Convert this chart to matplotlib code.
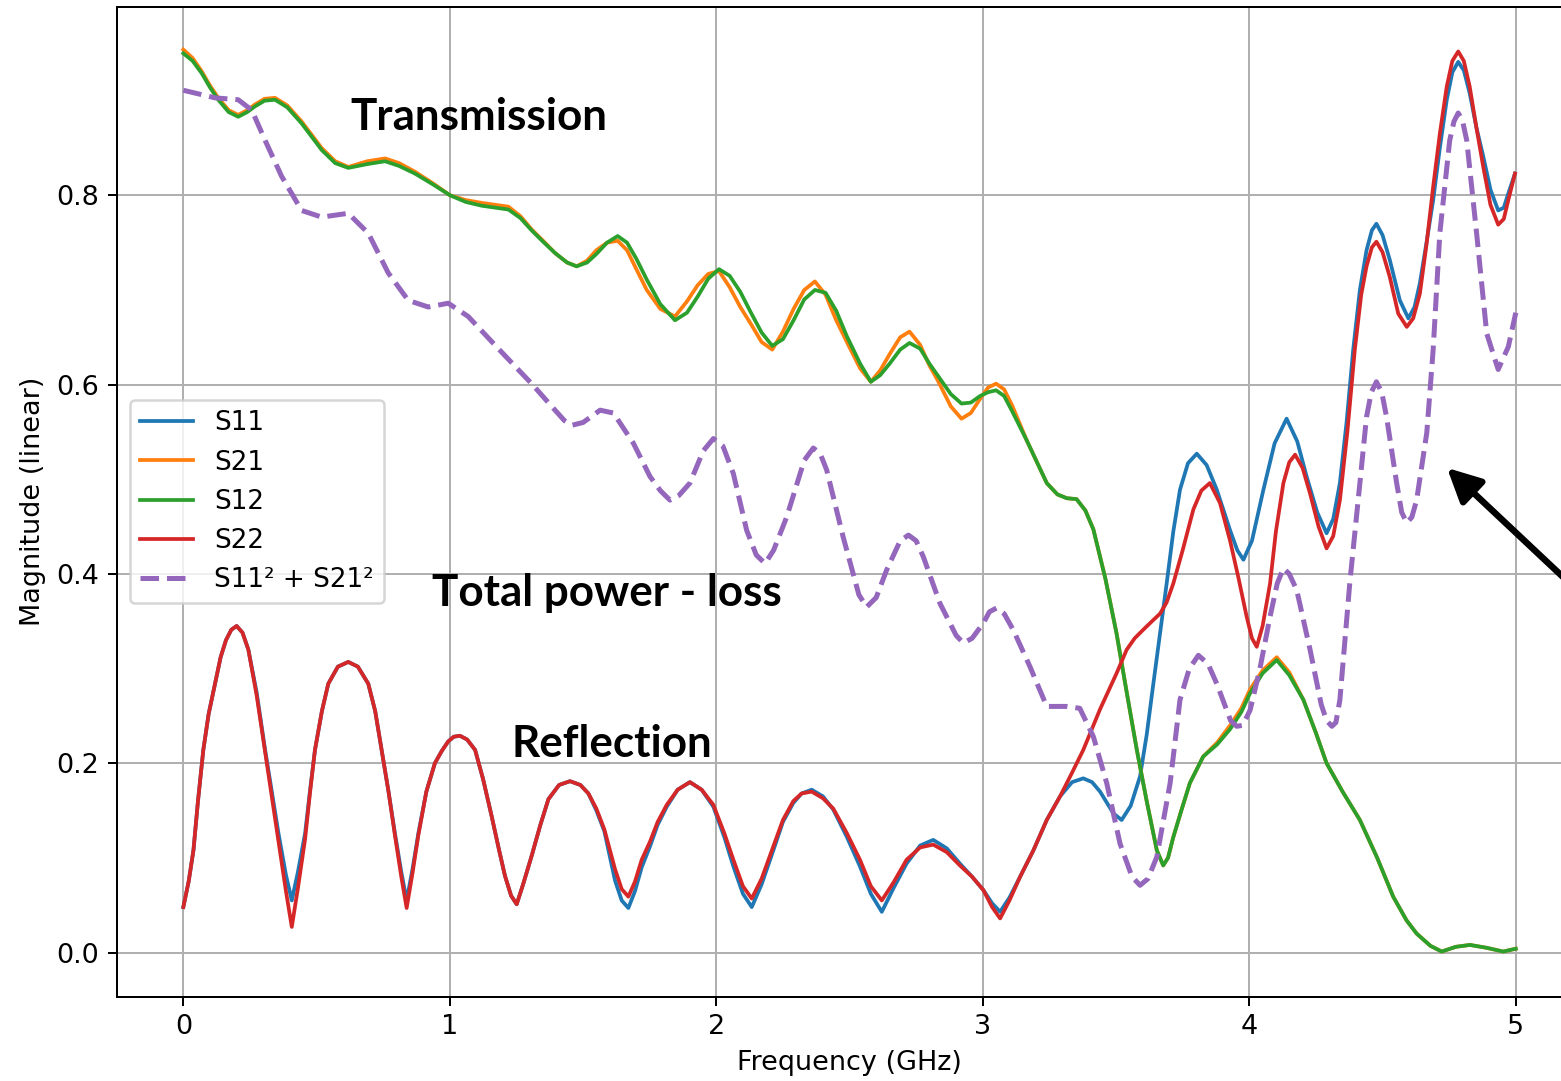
import matplotlib
matplotlib.use("Agg")
import matplotlib.pyplot as plt

# Reflection: S11 readings (GHz, linear magnitude)
s11_freq = [0.000, 0.020, 0.038, 0.055, 0.075, 0.095, 0.119, 0.140, 0.160, 0.180,
            0.200, 0.222, 0.244, 0.275, 0.307, 0.335, 0.357, 0.385, 0.407, 0.430,
            0.457, 0.475, 0.494, 0.520, 0.544, 0.580, 0.619, 0.655, 0.694, 0.720,
            0.744, 0.770, 0.794, 0.818, 0.838, 0.860, 0.882, 0.912, 0.944, 0.970,
            0.994, 1.015, 1.038, 1.065, 1.095, 1.125, 1.157, 1.185, 1.207, 1.230,
            1.251, 1.275, 1.307, 1.340, 1.370, 1.410, 1.451, 1.490, 1.520, 1.550,
            1.580, 1.620, 1.645, 1.670, 1.695, 1.720, 1.751, 1.780, 1.814, 1.855,
            1.901, 1.945, 1.989, 2.030, 2.064, 2.100, 2.133, 2.170, 2.214, 2.250,
            2.289, 2.320, 2.358, 2.400, 2.439, 2.490, 2.539, 2.580, 2.621, 2.665,
            2.714, 2.765, 2.814, 2.865, 2.914, 2.960, 3.002, 3.035, 3.065, 3.100,
            3.140, 3.190, 3.240, 3.290, 3.335, 3.377, 3.410, 3.440, 3.490, 3.521,
            3.555, 3.590, 3.615, 3.640, 3.665, 3.690, 3.715, 3.740, 3.770, 3.803,
            3.840, 3.878, 3.928, 3.955, 3.978, 4.010, 4.053, 4.095, 4.140, 4.180,
            4.215, 4.255, 4.290, 4.315, 4.340, 4.365, 4.390, 4.415, 4.440, 4.460,
            4.477, 4.500, 4.527, 4.565, 4.597, 4.620, 4.640, 4.665, 4.690, 4.715,
            4.741, 4.762, 4.784, 4.805, 4.827, 4.852, 4.878, 4.905, 4.934, 4.955,
            4.972, 4.997]
s11 = [0.048, 0.075, 0.108, 0.160, 0.214, 0.252, 0.284, 0.312, 0.330, 0.341,
       0.345, 0.338, 0.320, 0.275, 0.214, 0.165, 0.126, 0.082, 0.055, 0.085,
       0.126, 0.170, 0.214, 0.255, 0.284, 0.302, 0.307, 0.302, 0.284, 0.255,
       0.214, 0.170, 0.126, 0.085, 0.055, 0.088, 0.126, 0.170, 0.200, 0.213,
       0.223, 0.228, 0.229, 0.225, 0.214, 0.183, 0.144, 0.108, 0.081, 0.060,
       0.051, 0.072, 0.102, 0.135, 0.162, 0.177, 0.181, 0.177, 0.168, 0.150,
       0.128, 0.076, 0.055, 0.047, 0.065, 0.090, 0.112, 0.135, 0.154, 0.172,
       0.180, 0.172, 0.154, 0.122, 0.091, 0.062, 0.048, 0.072, 0.108, 0.138,
       0.158, 0.168, 0.172, 0.165, 0.151, 0.122, 0.091, 0.062, 0.043, 0.068,
       0.094, 0.113, 0.119, 0.110, 0.094, 0.080, 0.066, 0.052, 0.043, 0.058,
       0.080, 0.108, 0.140, 0.165, 0.180, 0.184, 0.180, 0.170, 0.147, 0.140,
       0.155, 0.186, 0.230, 0.284, 0.337, 0.390, 0.445, 0.489, 0.517, 0.527,
       0.515, 0.489, 0.446, 0.425, 0.415, 0.435, 0.489, 0.538, 0.564, 0.540,
       0.503, 0.465, 0.443, 0.458, 0.496, 0.560, 0.637, 0.700, 0.742, 0.763,
       0.770, 0.758, 0.732, 0.689, 0.670, 0.682, 0.707, 0.750, 0.795, 0.850,
       0.901, 0.930, 0.941, 0.932, 0.908, 0.872, 0.841, 0.806, 0.784, 0.787,
       0.802, 0.823]

# Transmission: S21 and S12 readings on a shared frequency list
t_freq = [0.000, 0.035, 0.069, 0.100, 0.131, 0.170, 0.206, 0.240, 0.269, 0.305,
          0.344, 0.390, 0.444, 0.519, 0.570, 0.619, 0.690, 0.757, 0.810, 0.869,
          0.940, 1.001, 1.060, 1.120, 1.220, 1.265, 1.307, 1.350, 1.395, 1.440,
          1.476, 1.515, 1.550, 1.590, 1.630, 1.665, 1.700, 1.739, 1.790, 1.845,
          1.890, 1.930, 1.970, 2.010, 2.050, 2.090, 2.130, 2.170, 2.210, 2.250,
          2.290, 2.330, 2.370, 2.410, 2.450, 2.490, 2.540, 2.580, 2.615, 2.650,
          2.690, 2.725, 2.765, 2.800, 2.830, 2.880, 2.920, 2.955, 2.990, 3.020,
          3.050, 3.080, 3.110, 3.165, 3.240, 3.280, 3.315, 3.352, 3.385, 3.415,
          3.460, 3.502, 3.540, 3.578, 3.615, 3.653, 3.677, 3.695, 3.715, 3.745,
          3.777, 3.827, 3.880, 3.928, 3.970, 4.003, 4.050, 4.103, 4.150, 4.203,
          4.250, 4.290, 4.350, 4.415, 4.480, 4.540, 4.590, 4.628, 4.680, 4.722,
          4.775, 4.828, 4.890, 4.953, 5.000]
s21 = [0.954, 0.945, 0.931, 0.916, 0.903, 0.890, 0.885, 0.890, 0.896, 0.902,
       0.903, 0.895, 0.878, 0.850, 0.836, 0.830, 0.836, 0.839, 0.834, 0.825,
       0.812, 0.800, 0.795, 0.792, 0.788, 0.778, 0.764, 0.752, 0.739, 0.729,
       0.725, 0.731, 0.742, 0.750, 0.752, 0.742, 0.722, 0.700, 0.680, 0.672,
       0.688, 0.705, 0.717, 0.720, 0.703, 0.682, 0.664, 0.645, 0.637, 0.656,
       0.680, 0.700, 0.709, 0.695, 0.668, 0.645, 0.617, 0.603, 0.615, 0.632,
       0.650, 0.656, 0.642, 0.620, 0.605, 0.577, 0.564, 0.570, 0.585, 0.597,
       0.601, 0.595, 0.578, 0.541, 0.496, 0.484, 0.480, 0.479, 0.467, 0.447,
       0.395, 0.337, 0.275, 0.214, 0.160, 0.108, 0.092, 0.100, 0.122, 0.150,
       0.179, 0.207, 0.222, 0.240, 0.258, 0.278, 0.298, 0.312, 0.296, 0.267,
       0.232, 0.200, 0.170, 0.140, 0.100, 0.059, 0.034, 0.020, 0.007, 0.001,
       0.006, 0.008, 0.005, 0.001, 0.004]
s12 = [0.950, 0.942, 0.929, 0.914, 0.901, 0.888, 0.883, 0.888, 0.894, 0.900,
       0.901, 0.893, 0.876, 0.848, 0.834, 0.829, 0.833, 0.836, 0.831, 0.823,
       0.811, 0.800, 0.793, 0.789, 0.785, 0.776, 0.763, 0.751, 0.739, 0.729,
       0.725, 0.729, 0.738, 0.750, 0.757, 0.750, 0.733, 0.711, 0.685, 0.668,
       0.676, 0.693, 0.712, 0.722, 0.715, 0.698, 0.676, 0.655, 0.641, 0.648,
       0.668, 0.690, 0.700, 0.697, 0.678, 0.651, 0.622, 0.603, 0.610, 0.622,
       0.637, 0.644, 0.638, 0.622, 0.610, 0.590, 0.580, 0.581, 0.588, 0.592,
       0.594, 0.588, 0.572, 0.541, 0.496, 0.484, 0.480, 0.479, 0.467, 0.447,
       0.395, 0.337, 0.275, 0.214, 0.160, 0.108, 0.092, 0.100, 0.122, 0.150,
       0.179, 0.207, 0.220, 0.236, 0.254, 0.274, 0.295, 0.309, 0.293, 0.267,
       0.232, 0.200, 0.170, 0.140, 0.100, 0.059, 0.034, 0.020, 0.007, 0.001,
       0.006, 0.008, 0.005, 0.001, 0.004]

# Reflection: S22 readings
s22_freq = [0.000, 0.020, 0.038, 0.055, 0.075, 0.095, 0.119, 0.140, 0.160, 0.180,
            0.200, 0.222, 0.244, 0.275, 0.307, 0.335, 0.357, 0.385, 0.407, 0.430,
            0.457, 0.475, 0.494, 0.520, 0.544, 0.580, 0.619, 0.655, 0.694, 0.720,
            0.744, 0.770, 0.794, 0.818, 0.838, 0.860, 0.882, 0.912, 0.944, 0.970,
            0.994, 1.015, 1.038, 1.065, 1.095, 1.125, 1.157, 1.185, 1.207, 1.230,
            1.251, 1.275, 1.307, 1.340, 1.370, 1.410, 1.451, 1.490, 1.520, 1.550,
            1.580, 1.620, 1.645, 1.670, 1.695, 1.720, 1.751, 1.780, 1.814, 1.855,
            1.901, 1.945, 1.989, 2.030, 2.064, 2.100, 2.133, 2.170, 2.214, 2.250,
            2.289, 2.320, 2.358, 2.400, 2.439, 2.490, 2.539, 2.580, 2.621, 2.665,
            2.714, 2.765, 2.814, 2.865, 2.914, 2.960, 3.002, 3.035, 3.065, 3.100,
            3.140, 3.190, 3.240, 3.290, 3.335, 3.377, 3.440, 3.502, 3.540, 3.570,
            3.602, 3.635, 3.665, 3.690, 3.715, 3.750, 3.790, 3.820, 3.852, 3.890,
            3.928, 3.960, 3.990, 4.010, 4.028, 4.050, 4.078, 4.100, 4.128, 4.150,
            4.172, 4.200, 4.228, 4.260, 4.290, 4.315, 4.340, 4.368, 4.396, 4.420,
            4.440, 4.460, 4.477, 4.500, 4.527, 4.559, 4.591, 4.615, 4.640, 4.665,
            4.690, 4.715, 4.741, 4.762, 4.784, 4.805, 4.827, 4.852, 4.878, 4.905,
            4.934, 4.955, 4.972, 4.997]
s22 = [0.048, 0.075, 0.108, 0.160, 0.214, 0.252, 0.284, 0.312, 0.330, 0.341,
       0.345, 0.338, 0.320, 0.272, 0.212, 0.160, 0.118, 0.065, 0.027, 0.068,
       0.120, 0.168, 0.214, 0.255, 0.284, 0.302, 0.307, 0.302, 0.284, 0.255,
       0.214, 0.170, 0.124, 0.080, 0.047, 0.084, 0.124, 0.170, 0.200, 0.213,
       0.223, 0.228, 0.229, 0.225, 0.214, 0.183, 0.144, 0.108, 0.081, 0.060,
       0.051, 0.072, 0.102, 0.135, 0.162, 0.177, 0.181, 0.177, 0.168, 0.152,
       0.130, 0.088, 0.067, 0.059, 0.075, 0.098, 0.117, 0.138, 0.156, 0.172,
       0.180, 0.172, 0.156, 0.126, 0.098, 0.070, 0.057, 0.078, 0.112, 0.140,
       0.160, 0.168, 0.170, 0.163, 0.152, 0.126, 0.098, 0.070, 0.055, 0.074,
       0.098, 0.111, 0.114, 0.106, 0.092, 0.080, 0.066, 0.048, 0.036, 0.055,
       0.080, 0.108, 0.140, 0.165, 0.190, 0.214, 0.257, 0.295, 0.320, 0.332,
       0.341, 0.350, 0.358, 0.370, 0.390, 0.425, 0.468, 0.488, 0.496, 0.475,
       0.435, 0.395, 0.355, 0.332, 0.323, 0.345, 0.390, 0.445, 0.496, 0.518,
       0.526, 0.512, 0.485, 0.450, 0.427, 0.440, 0.478, 0.550, 0.637, 0.695,
       0.725, 0.745, 0.751, 0.740, 0.714, 0.675, 0.661, 0.670, 0.696, 0.748,
       0.809, 0.865, 0.915, 0.942, 0.952, 0.942, 0.915, 0.872, 0.830, 0.790,
       0.769, 0.775, 0.795, 0.823]

# Total power curve (dashed)
p_freq = [0.000, 0.119, 0.206, 0.257, 0.307, 0.369, 0.444, 0.519, 0.619, 0.694,
          0.769, 0.844, 0.919, 0.994, 1.069, 1.182, 1.307, 1.395, 1.430, 1.457,
          1.500, 1.564, 1.614, 1.689, 1.751, 1.790, 1.826, 1.860, 1.901, 1.951,
          1.989, 2.025, 2.064, 2.114, 2.150, 2.183, 2.215, 2.264, 2.330, 2.364,
          2.390, 2.414, 2.476, 2.535, 2.564, 2.600, 2.639, 2.690, 2.721, 2.750,
          2.777, 2.839, 2.900, 2.927, 2.960, 3.002, 3.025, 3.052, 3.080, 3.114,
          3.177, 3.240, 3.315, 3.364, 3.415, 3.465, 3.515, 3.560, 3.590, 3.620,
          3.653, 3.703, 3.740, 3.775, 3.809, 3.845, 3.878, 3.930, 3.953, 3.975,
          4.003, 4.040, 4.078, 4.105, 4.128, 4.150, 4.178, 4.228, 4.270, 4.290,
          4.310, 4.325, 4.340, 4.377, 4.415, 4.440, 4.458, 4.477, 4.497, 4.515,
          4.553, 4.572, 4.591, 4.610, 4.628, 4.666, 4.690, 4.715, 4.752, 4.768,
          4.784, 4.800, 4.816, 4.853, 4.891, 4.934, 4.972, 5.000]
p_val = [0.911, 0.903, 0.901, 0.890, 0.858, 0.820, 0.784, 0.777, 0.781, 0.760,
         0.718, 0.689, 0.682, 0.686, 0.672, 0.638, 0.601, 0.573, 0.562, 0.557,
         0.560, 0.573, 0.570, 0.538, 0.503, 0.488, 0.478, 0.483, 0.496, 0.530,
         0.543, 0.535, 0.506, 0.446, 0.420, 0.411, 0.425, 0.460, 0.520, 0.533,
         0.527, 0.510, 0.439, 0.378, 0.365, 0.375, 0.404, 0.435, 0.441, 0.435,
         0.418, 0.369, 0.335, 0.327, 0.332, 0.348, 0.360, 0.364, 0.358, 0.341,
         0.302, 0.260, 0.260, 0.258, 0.228, 0.179, 0.115, 0.080, 0.071, 0.078,
         0.101, 0.179, 0.267, 0.300, 0.314, 0.305, 0.284, 0.245, 0.239, 0.240,
         0.256, 0.300, 0.355, 0.390, 0.406, 0.400, 0.383, 0.320, 0.262, 0.245,
         0.239, 0.243, 0.267, 0.390, 0.496, 0.566, 0.592, 0.603, 0.592, 0.566,
         0.496, 0.465, 0.454, 0.460, 0.478, 0.549, 0.637, 0.760, 0.858, 0.878,
         0.887, 0.879, 0.858, 0.760, 0.654, 0.616, 0.640, 0.676]

plt.rcParams["font.size"] = 10.8

DPI = 180
fig = plt.figure(figsize=(1561 / DPI, 1081 / DPI), dpi=DPI)
# axes run past the right edge: the reference is a cropped screenshot
ax = fig.add_axes([116.7 / 1561, 84.3 / 1081, 1465.7 / 1561, 990 / 1081])

ax.plot(s11_freq, s11, color="tab:blue", label="S11", solid_joinstyle="round")
ax.plot(t_freq, s21, color="tab:orange", label="S21", solid_joinstyle="round")
ax.plot(t_freq, s12, color="tab:green", label="S12", solid_joinstyle="round")
ax.plot(s22_freq, s22, color="tab:red", label="S22", solid_joinstyle="round")
ax.plot(p_freq, p_val, color="tab:purple", linestyle="--", linewidth=2,
        label="S11\u00b2 + S21\u00b2")

ax.set_xlim(-0.25, 5.25)
ax.set_ylim(-0.0467, 0.9993)
ax.set_xlabel("Frequency (GHz)")
ax.set_ylabel("Magnitude (linear)")
ax.grid(True)
ax.legend(loc="center left", fontsize=10.5)

# slide-style annotations
note = dict(fontfamily="Lato", fontweight="bold", fontsize=17.6, color="black",
            ha="left", va="center")
ax.text(0.628, 0.883, "Transmission", **note)
ax.text(0.935, 0.380, "Total power - loss", **note)
ax.text(1.230, 0.220, "Reflection", **note)

ax.annotate("", xy=(4.742, 0.512), xytext=(5.35, 0.351),
            arrowprops=dict(arrowstyle="-|>", color="black", lw=2.6,
                            mutation_scale=28, shrinkA=0, shrinkB=0),
            annotation_clip=False)

fig.savefig("out.png", dpi=DPI)
plt.close(fig)
